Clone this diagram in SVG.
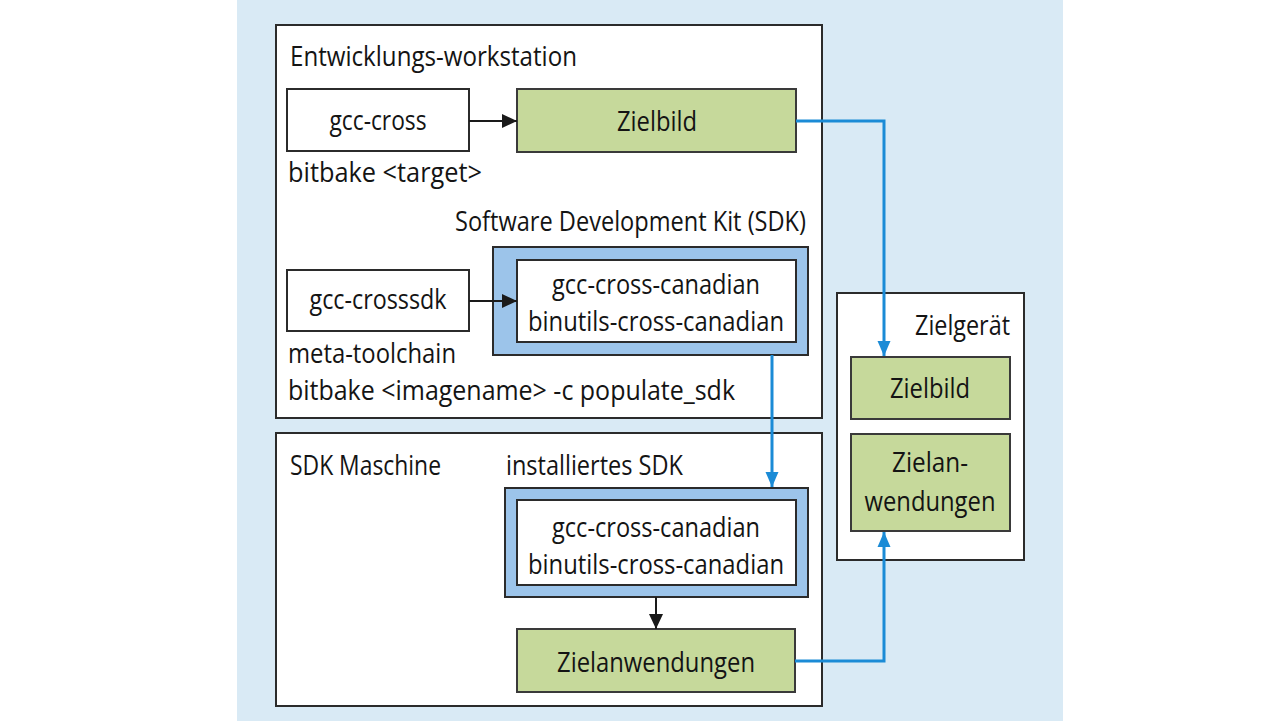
<svg xmlns="http://www.w3.org/2000/svg" width="1280" height="721" viewBox="0 0 1280 721">
  <defs>
    <style>
      .t { font-family: "Open Sans", "Liberation Sans", sans-serif; font-size: 28px; fill: #141414; }
      .m { text-anchor: middle; }
      .frame { fill: #ffffff; stroke: #2b2b2b; stroke-width: 2; }
      .white { fill: #ffffff; stroke: #2b2b2b; stroke-width: 2; }
      .green { fill: #c6d99b; stroke: #3a3a3a; stroke-width: 2; }
      .bluebox { fill: #9cc4ea; stroke: #2b2b2b; stroke-width: 2; }
      .blk { fill: none; stroke: #1a1a1a; stroke-width: 2; }
      .blu { fill: none; stroke: #1b8bd6; stroke-width: 3; }
    </style>
    <marker id="ab" markerUnits="userSpaceOnUse" markerWidth="16" markerHeight="16" viewBox="0 0 16 16" refX="15" refY="8" orient="auto">
      <path d="M0,1 L15,8 L0,15 Z" fill="#1a1a1a"/>
    </marker>
    <marker id="au" markerUnits="userSpaceOnUse" markerWidth="16" markerHeight="14" viewBox="0 0 16 14" refX="15" refY="7" orient="auto">
      <path d="M0,0.5 L15,7 L0,13.5 Z" fill="#1b8bd6"/>
    </marker>
  </defs>

  <rect x="0" y="0" width="1280" height="721" fill="#ffffff"/>
  <rect x="237" y="0" width="826" height="721" fill="#d9eaf5"/>

  <g id="workstation">
    <rect class="frame" x="276" y="25" width="546" height="393"/>
    <text class="t" x="290" y="66" textLength="287" lengthAdjust="spacingAndGlyphs">Entwicklungs-workstation</text>
    <text class="t" x="288" y="182" textLength="194" lengthAdjust="spacingAndGlyphs">bitbake &lt;target&gt;</text>
    <text class="t" x="455" y="231" textLength="351" lengthAdjust="spacingAndGlyphs">Software Development Kit (SDK)</text>
    <text class="t" x="288" y="363" textLength="168" lengthAdjust="spacingAndGlyphs">meta-toolchain</text>
    <text class="t" x="288" y="400" textLength="447" lengthAdjust="spacingAndGlyphs">bitbake &lt;imagename&gt; -c populate_sdk</text>
  </g>

  <g id="sdk-maschine">
    <rect class="frame" x="276" y="433" width="546" height="273"/>
    <text class="t" x="290" y="475" textLength="151" lengthAdjust="spacingAndGlyphs">SDK Maschine</text>
    <text class="t" x="506" y="475" textLength="177" lengthAdjust="spacingAndGlyphs">installiertes SDK</text>
  </g>

  <g id="zielgeraet">
    <rect class="frame" x="837" y="293" width="187" height="267"/>
    <text class="t" x="1010" y="335" text-anchor="end" textLength="95" lengthAdjust="spacingAndGlyphs">Zielgerät</text>
  </g>

  <g id="gcc-cross">
    <rect class="white" x="287" y="89" width="182" height="62"/>
    <text class="t m" x="378" y="130" textLength="97" lengthAdjust="spacingAndGlyphs">gcc-cross</text>
  </g>

  <g id="zielbild">
    <rect class="green" x="517" y="89" width="279" height="63"/>
    <text class="t m" x="657" y="131" textLength="80" lengthAdjust="spacingAndGlyphs">Zielbild</text>
  </g>

  <g id="gcc-crosssdk">
    <rect class="white" x="287" y="270" width="182" height="61"/>
    <text class="t m" x="378" y="309" textLength="137" lengthAdjust="spacingAndGlyphs">gcc-crosssdk</text>
  </g>

  <g id="sdk">
    <rect class="bluebox" x="493" y="247" width="315" height="108"/>
    <rect class="white" x="517" y="260" width="279" height="82"/>
    <text class="t m" x="656" y="294" textLength="208" lengthAdjust="spacingAndGlyphs">gcc-cross-canadian</text>
    <text class="t m" x="656" y="331" textLength="256" lengthAdjust="spacingAndGlyphs">binutils-cross-canadian</text>
  </g>

  <g id="installiertes-sdk">
    <rect class="bluebox" x="505" y="488" width="303" height="109"/>
    <rect class="white" x="517" y="500" width="279" height="85"/>
    <text class="t m" x="656" y="537" textLength="208" lengthAdjust="spacingAndGlyphs">gcc-cross-canadian</text>
    <text class="t m" x="656" y="574" textLength="256" lengthAdjust="spacingAndGlyphs">binutils-cross-canadian</text>
  </g>

  <g id="zielanwendungen">
    <rect class="green" x="517" y="629" width="278" height="63"/>
    <text class="t m" x="656" y="672" textLength="198" lengthAdjust="spacingAndGlyphs">Zielanwendungen</text>
  </g>

  <g id="ziel-zielbild">
    <rect class="green" x="851" y="357" width="159" height="62"/>
    <text class="t m" x="930" y="398" textLength="80" lengthAdjust="spacingAndGlyphs">Zielbild</text>
  </g>

  <g id="ziel-zielanwendungen">
    <rect class="green" x="851" y="434" width="159" height="97"/>
    <text class="t m" x="930" y="472" textLength="76" lengthAdjust="spacingAndGlyphs">Zielan-</text>
    <text class="t m" x="930" y="511" textLength="131" lengthAdjust="spacingAndGlyphs">wendungen</text>
  </g>

  <g id="connectors">
    <path class="blk" d="M469,121 L517,121" marker-end="url(#ab)"/>
    <path class="blk" d="M469,301 L517,301" marker-end="url(#ab)"/>
    <path class="blk" d="M656,597 L656,629" marker-end="url(#ab)"/>
    <path class="blu" d="M796,121 L884,121 L884,356" marker-end="url(#au)"/>
    <path class="blu" d="M772,355 L772,487" marker-end="url(#au)"/>
    <path class="blu" d="M795,661 L884,661 L884,532" marker-end="url(#au)"/>
  </g>
</svg>
